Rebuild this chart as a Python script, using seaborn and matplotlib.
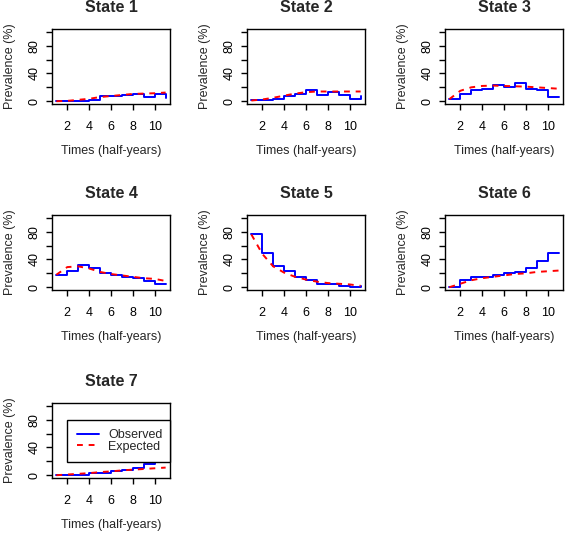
import matplotlib
matplotlib.use('Agg')
import matplotlib.pyplot as plt
import numpy as np
import pandas as pd
import seaborn as sns

# half-year time points
times = [1, 2, 3, 4, 5, 6, 7, 8, 9, 10, 11]

# observed prevalence (%) per state, step values
obs_1 = [0, 0, 0, 2, 7, 7, 9, 11, 6, 10, 4]
obs_2 = [1.5, 1.5, 3, 7, 10, 16, 9, 13, 9, 3, 7]
obs_3 = [3, 10, 16, 18, 24, 20, 26, 18, 16, 6, 6]
obs_4 = [18, 24, 32, 27, 20, 18, 15, 14, 9, 5, 5]
obs_5 = [76, 50, 30, 23, 15, 10, 5, 5, 2, 0, 2]
obs_6 = [0, 11, 15, 15, 18, 20, 22, 27, 38, 50, 50]
obs_7 = [0, 0, 0, 3, 3, 6, 7, 10, 16, 22, 22]

# expected prevalence (%) per state
exp_1 = [0, 0.5, 2, 3.5, 6, 7.5, 9, 10.5, 11, 11.5, 12.5]
exp_2 = [1, 2.5, 5, 8, 11, 13, 14, 14, 14, 14, 14]
exp_3 = [3, 15, 20, 22, 22.5, 22, 21.5, 21, 20, 19, 18]
exp_4 = [18, 29, 30, 27, 22, 19, 17, 15, 13, 12, 9]
exp_5 = [76, 48, 30, 21, 15, 11, 8, 6, 5, 4, 2]
exp_6 = [0, 5, 10, 13, 15, 17, 19, 20, 22, 23, 24]
exp_7 = [0, 1, 2, 3, 4.5, 5.5, 7, 8, 9, 10, 11]

observed = [obs_1, obs_2, obs_3, obs_4, obs_5, obs_6, obs_7]
expected = [exp_1, exp_2, exp_3, exp_4, exp_5, exp_6, exp_7]
titles = ['State 1', 'State 2', 'State 3', 'State 4', 'State 5', 'State 6', 'State 7']

sns.set_style('ticks')
plt.rcParams['font.family'] = ['Liberation Sans', 'DejaVu Sans']

W, H = 567, 533
fig = plt.figure(figsize=(W / 100, H / 100), dpi=100)

# plot box positions in pixels (left, top)
col_left = [52, 247, 445]
row_top = [29, 215, 403]
box_w, box_h = 118, 75

for i in range(7):
    r, c = divmod(i, 3)
    left = col_left[c]
    top = row_top[r]
    ax = fig.add_axes([left / W, (H - top - box_h) / H, box_w / W, box_h / H])

    df = pd.DataFrame({'time': times, 'obs': observed[i], 'exp': expected[i]})
    sns.lineplot(data=df, x='time', y='obs', ax=ax, color='blue', lw=1.4,
                 drawstyle='steps-post', label='Observed', legend=False)
    sns.lineplot(data=df, x='time', y='exp', ax=ax, color='red', lw=1.4,
                 linestyle=(0, (3, 3)), label='Expected', legend=False)

    ax.set_xlim(0.6, 11.4)
    ax.set_ylim(-4, 104)
    ax.set_xticks([2, 4, 6, 8, 10])
    ax.set_yticks([0, 20, 40, 60, 80, 100])
    ax.set_yticklabels(['0', '', '40', '', '80', ''], rotation=90, va='center')
    ax.tick_params(direction='out', length=4.3, width=1, labelsize=9, colors='black')
    ax.tick_params(axis='x', pad=8)
    ax.tick_params(axis='y', pad=4)
    for s in ax.spines.values():
        s.set_visible(True)
        s.set_linewidth(1)
        s.set_color('black')

    ax.set_xlabel('Times (half-years)', fontsize=9)
    ax.set_ylabel('Prevalence (%)', fontsize=9)
    ax.xaxis.set_label_coords(0.5, -41 / box_h)
    ax.yaxis.set_label_coords(-36 / box_w, 0.5)
    ax.text(0.5, 1 + 22 / box_h, titles[i], transform=ax.transAxes,
            ha='center', va='center', fontsize=11.5, fontweight='bold')

    if i == 6:
        leg = ax.legend(loc='center', bbox_to_anchor=(0.13, 0.213, 0.87, 0.56),
                        mode='expand', fancybox=False, edgecolor='black',
                        framealpha=1, fontsize=9, handlelength=1.8,
                        handletextpad=0.7, labelspacing=-0.05, borderpad=0.75,
                        borderaxespad=0)
        leg.get_frame().set_linewidth(1)

fig.savefig('out.png', dpi=100)
